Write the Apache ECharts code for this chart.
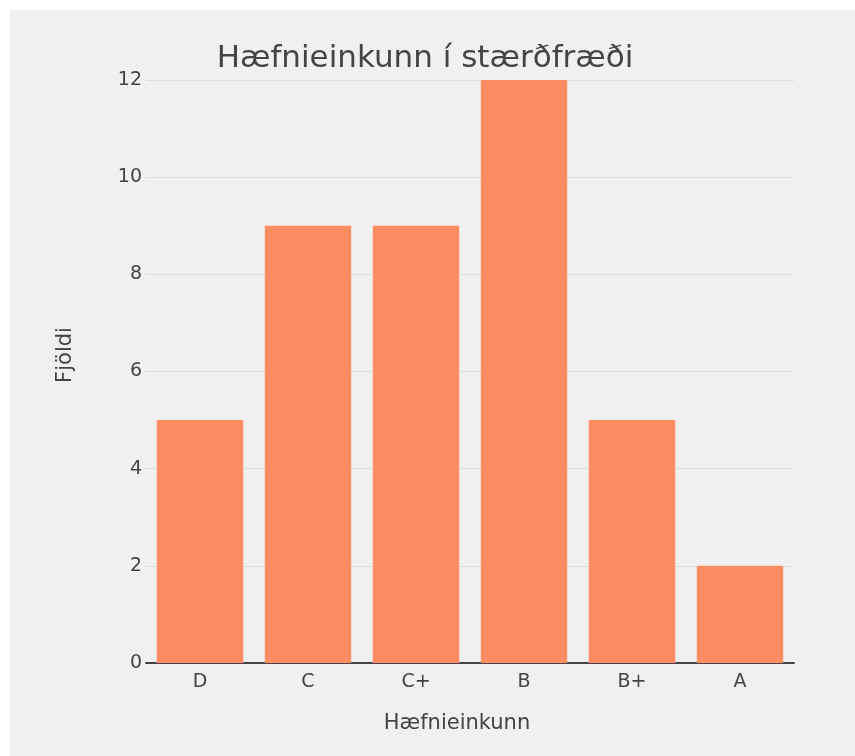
<!DOCTYPE html>
<html>
<head>
<meta charset="utf-8">
<script src="https://cdn.jsdelivr.net/npm/echarts@6/dist/echarts.min.js"></script>
<style>
html,body{margin:0;padding:0;background:#ffffff;width:855px;height:756px;overflow:hidden;}
#chart{position:absolute;left:10px;top:10px;width:845px;height:746px;}
</style>
</head>
<body>
<div id="chart"></div>
<script>
const categories = ['D', 'C', 'C+', 'B', 'B+', 'A'];
const counts = [5, 9, 9, 12, 5, 2];
const yTicks = [0, 2, 4, 6, 8, 10, 12];
const titleText = 'Hæfnieinkunn í stærðfræði';
const xTitle = 'Hæfnieinkunn';
const yTitle = 'Fjöldi';

const fontFam = 'DejaVu Sans, Verdana, sans-serif';
const chart = echarts.init(document.getElementById('chart'), null, {renderer: 'canvas'});
chart.setOption({
  backgroundColor: '#f0f0f0',
  animation: false,
  title: {
    text: titleText,
    left: 410, textAlign: 'center',
    top: 28,
    textStyle: {color: '#444', fontSize: 31, fontWeight: 'normal', fontFamily: fontFam}
  },
  grid: {left: 136, right: 61, top: 70, bottom: 93, containLabel: false},
  xAxis: {
    type: 'category',
    data: categories,
    name: xTitle,
    nameLocation: 'middle',
    nameGap: 50,
    nameTextStyle: {color: '#444', fontSize: 21, fontFamily: fontFam, padding: [0, 26, 0, 0]},
    axisLine: {show: true, lineStyle: {color: '#444', width: 2}},
    axisTick: {show: false},
    axisLabel: {color: '#444', fontSize: 19, fontFamily: fontFam, margin: 10},
    splitLine: {show: false}
  },
  yAxis: {
    type: 'value',
    min: yTicks[0], max: yTicks[yTicks.length - 1], interval: 2,
    name: yTitle,
    nameLocation: 'middle',
    nameGap: 70,
    nameRotate: 90,
    nameTextStyle: {color: '#444', fontSize: 21, fontFamily: fontFam, padding: [0, 0, 0, 33]},
    axisLine: {show: false},
    axisTick: {show: false},
    axisLabel: {color: '#444', fontSize: 19, fontFamily: fontFam, margin: 4},
    splitLine: {show: true, lineStyle: {color: '#dedede', width: 1}}
  },
  series: [{
    type: 'bar',
    data: counts,
    barCategoryGap: '20%',
    itemStyle: {color: '#fc8d62'}
  }]
});
</script>
</body>
</html>
